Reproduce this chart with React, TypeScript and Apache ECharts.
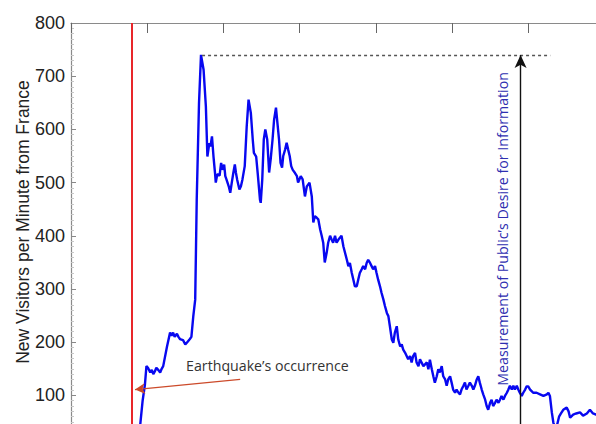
import React, { useEffect, useRef } from "react";
import * as echarts from "echarts";

// minutes (x) and new visitors per minute (y)
const times = [
  8.7, 9.1, 9.4, 9.7, 9.9, 10.1, 10.4, 10.6, 10.8, 11.0,
  11.2, 11.5, 11.7, 11.9, 12.1, 12.6, 13.0, 13.2, 13.4, 13.6,
  13.9, 14.1, 14.3, 14.7, 15.0, 15.2, 15.6, 15.8, 16.05, 16.3,
  16.5, 16.8, 17.06, 17.4, 17.7, 17.9, 18.15, 18.3, 18.5, 18.7,
  18.9, 19.0, 19.2, 19.5, 19.7, 19.9, 20.1, 20.25, 20.4, 20.7,
  20.9, 21.1, 21.3, 21.5, 21.65, 21.8, 22.1, 22.3, 22.5, 22.8,
  23.06, 23.3, 23.6, 23.85, 24.0, 24.3, 24.5, 24.8, 24.9, 25.1,
  25.3, 25.5, 25.75, 26.0, 26.2, 26.45, 26.65, 26.9, 27.05, 27.3,
  27.5, 27.7, 27.85, 28.1, 28.3, 28.5, 28.7, 28.9, 29.1, 29.4,
  29.65, 29.8, 30.15, 30.4, 30.7, 30.95, 31.3, 31.6, 31.8, 32.0,
  32.25, 32.45, 32.7, 32.9, 33.1, 33.3, 33.55, 33.75, 34.0, 34.2,
  34.4, 34.65, 34.85, 35.1, 35.5, 35.75, 36.2, 36.4, 36.6, 36.85,
  37.05, 37.25, 37.5, 37.7, 37.9, 38.15, 38.35, 38.6, 38.8, 39.0,
  39.25, 39.45, 39.65, 39.9, 40.1, 40.3, 40.55, 40.75, 41.0, 41.2,
  41.45, 41.65, 41.85, 42.1, 42.3, 42.5, 42.75, 42.95, 43.2, 43.4,
  43.6, 43.85, 44.05, 44.25, 44.5, 44.7, 44.9, 45.15, 45.35, 45.6,
  45.8, 46.0, 46.25, 46.7, 46.9, 47.1, 47.35, 47.55, 47.75, 48.0,
  48.2, 48.4, 48.65, 48.85, 49.1, 49.3, 49.5, 49.75, 49.95, 50.15,
  50.4, 50.6, 50.85, 51.05, 51.25, 51.5, 51.7, 51.9, 52.15, 52.35,
  52.6, 52.8, 53.0, 53.25, 53.45, 53.65, 53.9, 54.1, 54.35, 54.55,
  54.75, 55.0, 55.2, 55.4, 55.65, 55.85, 56.1, 56.3, 56.5, 56.75,
  56.95, 57.2, 57.4, 57.6, 57.85, 58.05, 58.25, 58.5, 58.7, 58.9,
  59.15, 59.35, 59.6, 59.8, 60.0, 60.25, 60.45, 60.65, 61.1, 61.55,
  62.0, 62.45, 62.65, 62.85, 63.1, 63.3, 63.5, 63.8, 64.05, 64.3,
  64.6, 65.05, 65.3, 65.5, 65.9, 66.3, 66.8, 67.2, 67.7, 68.1, 68.5, 68.9, 69.4,
];

const visitors = [
  10, 47, 90, 120, 155, 152, 143, 148, 140, 145,
  152, 147, 143, 150, 155, 192, 218, 212, 218, 210,
  216, 210, 206, 204, 196, 199, 206, 210, 249, 280,
  468, 650, 740, 712, 643, 549, 574, 568, 587, 549,
  518, 500, 516, 513, 537, 524, 534, 512, 506, 493,
  481, 500, 518, 534, 518, 506, 487, 493, 506, 531,
  606, 656, 631, 581, 556, 549, 518, 468, 462, 506,
  581, 600, 581, 519, 543, 581, 618, 641, 618, 581,
  537, 528, 550, 562, 575, 562, 550, 531, 524, 518,
  512, 500, 512, 506, 474, 493, 500, 474, 425, 437,
  434, 431, 412, 400, 387, 350, 368, 387, 400, 393,
  387, 400, 387, 393, 400, 380, 355, 343, 349, 330,
  318, 305, 305, 318, 330, 337, 343, 337, 349, 355,
  349, 343, 337, 343, 330, 318, 305, 293, 280, 268,
  255, 249, 230, 205, 199, 218, 230, 205, 192, 196,
  186, 180, 174, 168, 174, 162, 174, 180, 162, 155,
  168, 162, 155, 162, 149, 167, 149, 136, 124, 136,
  149, 143, 155, 136, 130, 118, 130, 136, 124, 111,
  105, 111, 105, 102, 111, 118, 124, 111, 118, 124,
  118, 111, 118, 130, 136, 124, 111, 102, 92, 80,
  73, 86, 92, 80, 86, 92, 86, 92, 99, 92,
  99, 105, 111, 118, 111, 118, 111, 118, 111, 105,
  99, 105, 111, 117, 117, 111, 108, 105, 105, 102,
  99, 102, 105, 99, 68, 49, 40, 45, 60, 66,
  73, 77, 70, 58, 64, 66, 68, 62, 66, 73, 66, 64, 60,
];

const yTitle = "New Visitors per Minute from France";
const quakeLabel = "Earthquake\u2019s occurrence";
const measureLabel = "Measurement of Public\u2019s Desire for Information";
const quakeMinute = 8;
const peakValue = 740;
const peakStart = 17.2;
const peakEnd = 62.9;
const measureMinute = 59;
const quakeArrowFrom = [22.2, 130];
const quakeArrowTo = [8.4, 111];
const quakeLabelAt = [15.1, 156];
const measureLabelAt = [56.6, 413];

export default function App() {
  const ref = useRef<HTMLDivElement>(null);
  useEffect(() => {
    if (!ref.current) return;
    const chart = echarts.init(ref.current, undefined, { renderer: "svg" });
    const data = times.map((t, i) => [t, visitors[i]]);
    chart.setOption({
      animation: false,
      backgroundColor: "#ffffff",
      grid: { left: 71, top: 23, width: 533.4, height: 425.6, outerBoundsMode: "none", containLabel: false },
      xAxis: {
        type: "value",
        position: "top",
        min: 0,
        max: 70,
        interval: 10,
        axisLine: { show: true, onZero: false, lineStyle: { color: "#8a8a8a", width: 1.2 } },
        axisTick: { show: true, inside: true, length: 10, lineStyle: { color: "#666", width: 1 } },
        axisLabel: { show: false },
        splitLine: { show: false },
      },
      yAxis: {
        type: "value",
        min: 0,
        max: 800,
        interval: 100,
        axisLine: { show: true, onZero: false, lineStyle: { color: "#8a8a8a", width: 1.2 } },
        axisTick: { show: true, inside: true, length: 5, lineStyle: { color: "#888" } },
        minorTick: { show: true, splitNumber: 10, length: 3, lineStyle: { color: "#c8c8c8" } },
        axisLabel: {
          color: "#222",
          fontSize: 18,
          fontFamily: "Liberation Sans, Arial, sans-serif",
          margin: 6,
          showMinLabel: false,
        },
        splitLine: { show: false },
      },
      graphic: [
        {
          type: "text",
          x: 23,
          y: 222,
          rotation: Math.PI / 2,
          style: {
            text: yTitle,
            fontSize: 17.5,
            fontFamily: "Liberation Sans, Arial, sans-serif",
            fill: "#222",
            align: "center",
            verticalAlign: "middle",
          },
        },
      ],
      series: [
        {
          type: "line",
          data,
          showSymbol: false,
          symbol: "none",
          clip: true,
          lineStyle: { color: "#0808f0", width: 2.4 },
          z: 3,
          markLine: {
            silent: true,
            symbol: "none",
            label: { show: false },
            data: [
              [
                { coord: [quakeMinute, 0], lineStyle: { color: "#e8262a", width: 2, type: "solid" } },
                { coord: [quakeMinute, 800] },
              ],
              [
                { coord: [peakStart, peakValue], lineStyle: { color: "#555", width: 1.3, type: [3, 3] } },
                { coord: [peakEnd, peakValue] },
              ],
              [
                {
                  coord: [measureMinute, 0],
                  symbol: "none",
                  lineStyle: { color: "#111", width: 1.4, type: "solid" },
                },
                { coord: [measureMinute, peakValue], symbol: "arrow", symbolSize: [9, 13] },
              ],
              [
                {
                  coord: quakeArrowFrom,
                  symbol: "none",
                  lineStyle: { color: "#cc4a2a", width: 1.2, type: "solid" },
                },
                { coord: quakeArrowTo, symbol: "arrow", symbolSize: [8, 10] },
              ],
            ],
          },
          markPoint: {
            silent: true,
            symbol: "circle",
            symbolSize: 0,
            data: [
              {
                coord: quakeLabelAt,
                label: {
                  show: true,
                  position: "right",
                  distance: 0,
                  formatter: quakeLabel,
                  color: "#333",
                  fontSize: 14.2,
                  fontFamily: "Open Sans, Noto Sans, sans-serif",
                },
              },
              {
                coord: measureLabelAt,
                label: {
                  show: true,
                  position: "inside",
                  rotate: 90,
                  align: "center",
                  verticalAlign: "middle",
                  formatter: measureLabel,
                  color: "#2e2eb0",
                  fontSize: 14.2,
                  fontFamily: "Open Sans, Noto Sans, sans-serif",
                },
              },
            ],
          },
        },
      ],
    });
    return () => chart.dispose();
  }, []);
  return (
    <div
      ref={ref}
      style={{ position: "fixed", left: 0, top: 0, width: 596, height: 424, background: "#fff" }}
    />
  );
}
